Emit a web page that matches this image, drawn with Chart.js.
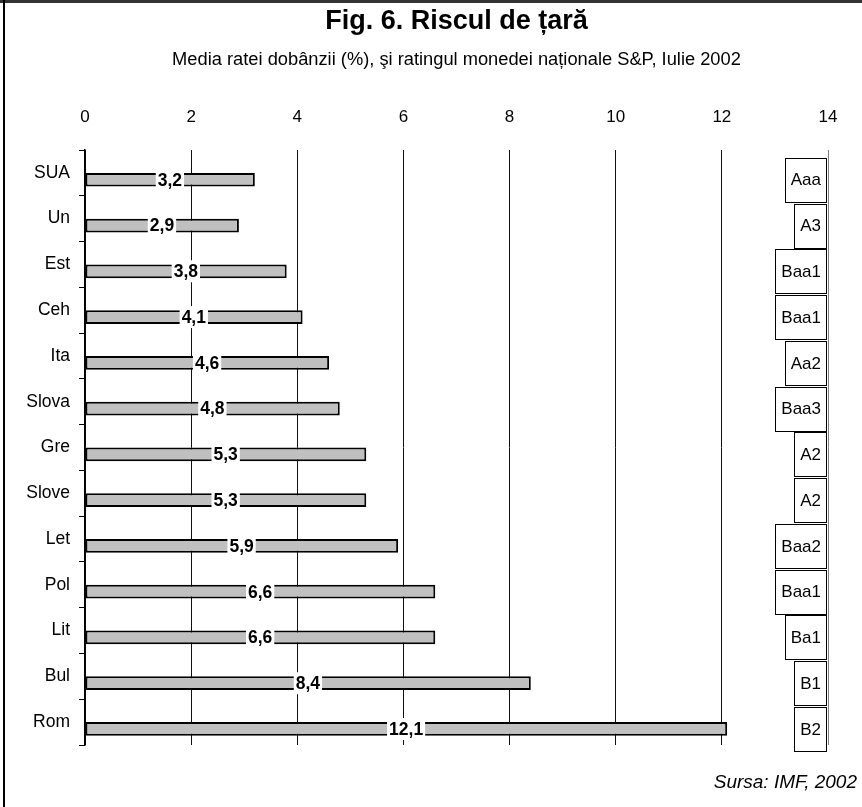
<!DOCTYPE html>
<html>
<head>
<meta charset="utf-8">
<script src="https://cdn.jsdelivr.net/npm/chart.js@4"></script>
<style>
    html, body { margin: 0; padding: 0; background: #fff; }
    canvas { display: block; }
</style>
</head>
<body>
<canvas id="riskChart" width="862" height="807"></canvas>
<script>
/* ---------------- DATA ---------------- */

const countries = ["SUA", "Un", "Est", "Ceh", "Ita", "Slova", "Gre", "Slove", "Let", "Pol", "Lit", "Bul", "Rom"];
const interestRates = [3.2, 2.9, 3.8, 4.1, 4.6, 4.8, 5.3, 5.3, 5.9, 6.6, 6.6, 8.4, 12.1];
const ratings = ["Aaa", "A3", "Baa1", "Baa1", "Aa2", "Baa3", "A2", "A2", "Baa2", "Baa1", "Ba1", "B1", "B2"];
const xTicks = [0, 2, 4, 6, 8, 10, 12, 14];

const titleText = "Fig. 6. Riscul de țară";
const subtitleText = "Media ratei dobânzii (%), şi ratingul monedei naționale S&P, Iulie 2002";
const sourceText = "Sursa: IMF, 2002";

/* ---------------- FONTS ---------------- */

// the reference text is condensed: use the narrow face when it is installed
const probe = document.createElement("canvas").getContext("2d");
function probeWidth(font) {
    probe.font = font;
    return probe.measureText("Baa1 Media ratei").width;
}
const hasNarrow = probeWidth('20px "Liberation Sans Narrow", monospace') !== probeWidth("20px monospace");
const FAMILY = hasNarrow
    ? '"Liberation Sans Narrow", "Liberation Sans", Arial, sans-serif'
    : '"Liberation Sans", Arial, sans-serif';
const WIDE = '"Liberation Sans", Arial, sans-serif';

function fs(px) {
    return hasNarrow ? Math.round(px / 0.82) : px;
}

/* ---------------- EXTRA DRAWING ---------------- */

const decorations = {
    id: "decorations",

    afterDatasetsDraw(chart) {
        const c = chart.ctx;
        const x = chart.scales.x;
        const bars = chart.getDatasetMeta(1).data;
        const x0 = x.getPixelForValue(0);
        const right = x.getPixelForValue(14) - 2;

        c.save();

        // value labels on the bars
        c.font = "bold " + fs(17.5) + "px " + FAMILY;
        c.textAlign = "center";
        c.textBaseline = "middle";
        bars.forEach((bar, i) => {
            const txt = interestRates[i].toFixed(1).replace(".", ",");
            const cx = (x0 + bar.x) / 2;
            const w = c.measureText(txt).width + 4;
            c.fillStyle = "#fff";
            c.fillRect(cx - w / 2, bar.y - 11, w, 22);
            c.fillStyle = "#000";
            c.fillText(txt, cx, bar.y + 1);
        });

        // rating boxes at the right edge
        c.font = fs(17) + "px " + FAMILY;
        c.textAlign = "right";
        c.lineWidth = 1;
        bars.forEach((bar, i) => {
            const w = Math.round(c.measureText(ratings[i]).width + 11);
            const top = Math.round(bar.y - 22) + 0.5;
            const left = Math.round(right - w) + 0.5;
            c.fillStyle = "#fff";
            c.fillRect(left, top, w, 44);
            c.strokeStyle = "#000";
            c.strokeRect(left, top, w, 44);
            c.fillStyle = "#000";
            c.fillText(ratings[i], right - 5, bar.y + 1);
        });

        c.restore();
    },

    afterDraw(chart) {
        const c = chart.ctx;
        c.save();

        // source note
        c.font = "italic 19px " + WIDE;
        c.textAlign = "right";
        c.textBaseline = "middle";
        c.fillStyle = "#000";
        c.fillText(sourceText, 857, 783);

        // outer frame (top and left edges only)
        c.fillStyle = "#333";
        c.fillRect(0, 0, chart.width, 3);
        c.fillStyle = "#000";
        c.fillRect(3, 0, 2, chart.height);

        c.restore();
    }
};

/* ---------------- CHART SETUP ---------------- */

const ctx = document.getElementById("riskChart");

const riskChart = new Chart(ctx, {

    type: "bar",

    data: {
        labels: countries,
        datasets: [
            {
                // empty slot above each bar, where the rating sits in the original
                label: "Rating",
                data: ratings.map(() => null)
            },
            {
                label: "Media ratei dobânzii (%)",
                data: interestRates,
                backgroundColor: "#c0c0c0",
                borderColor: "#000",
                borderWidth: 2,
                borderSkipped: false
            }
        ]
    },

    options: {
        indexAxis: "y",
        responsive: false,
        animation: false,
        devicePixelRatio: 1,

        layout: {
            padding: { left: 5, right: 34, top: 0, bottom: 62 }
        },

        datasets: {
            bar: { categoryPercentage: 0.6, barPercentage: 1 }
        },

        plugins: {
            legend: { display: false },
            tooltip: { enabled: false },
            // titles centred over the plot area, as in the original
            title: {
                display: true,
                fullSize: false,
                text: titleText,
                color: "#000",
                font: { family: WIDE, size: 27, weight: "bold", lineHeight: "32px" },
                padding: { top: 6, bottom: 2 }
            },
            subtitle: {
                display: true,
                fullSize: false,
                text: subtitleText,
                color: "#000",
                font: { family: FAMILY, size: fs(18.3), lineHeight: "26px" },
                padding: { top: 7, bottom: 11 }
            }
        },

        scales: {
            x: {
                position: "top",
                min: 0,
                max: 14,
                afterBuildTicks(scale) {
                    scale.ticks = xTicks.map(v => ({ value: v }));
                },
                ticks: {
                    color: "#000",
                    padding: 21,
                    maxRotation: 0,
                    autoSkip: false,
                    font: { family: FAMILY, size: fs(17), lineHeight: "24px" }
                },
                grid: {
                    drawTicks: false,
                    lineWidth: 1,
                    color: c => (c.tick && c.tick.value === 14 ? "#808080" : "#111")
                },
                border: { display: false }
            },
            y: {
                afterFit(scale) {
                    scale.width = 80;
                },
                ticks: {
                    color: "#000",
                    padding: 9,
                    font: { family: FAMILY, size: fs(17.5) }
                },
                grid: {
                    drawOnChartArea: false,
                    tickLength: 6,
                    color: "#000"
                },
                border: { color: "#000", width: 1.5 }
            }
        }
    },

    plugins: [decorations]
});
</script>
</body>
</html>
